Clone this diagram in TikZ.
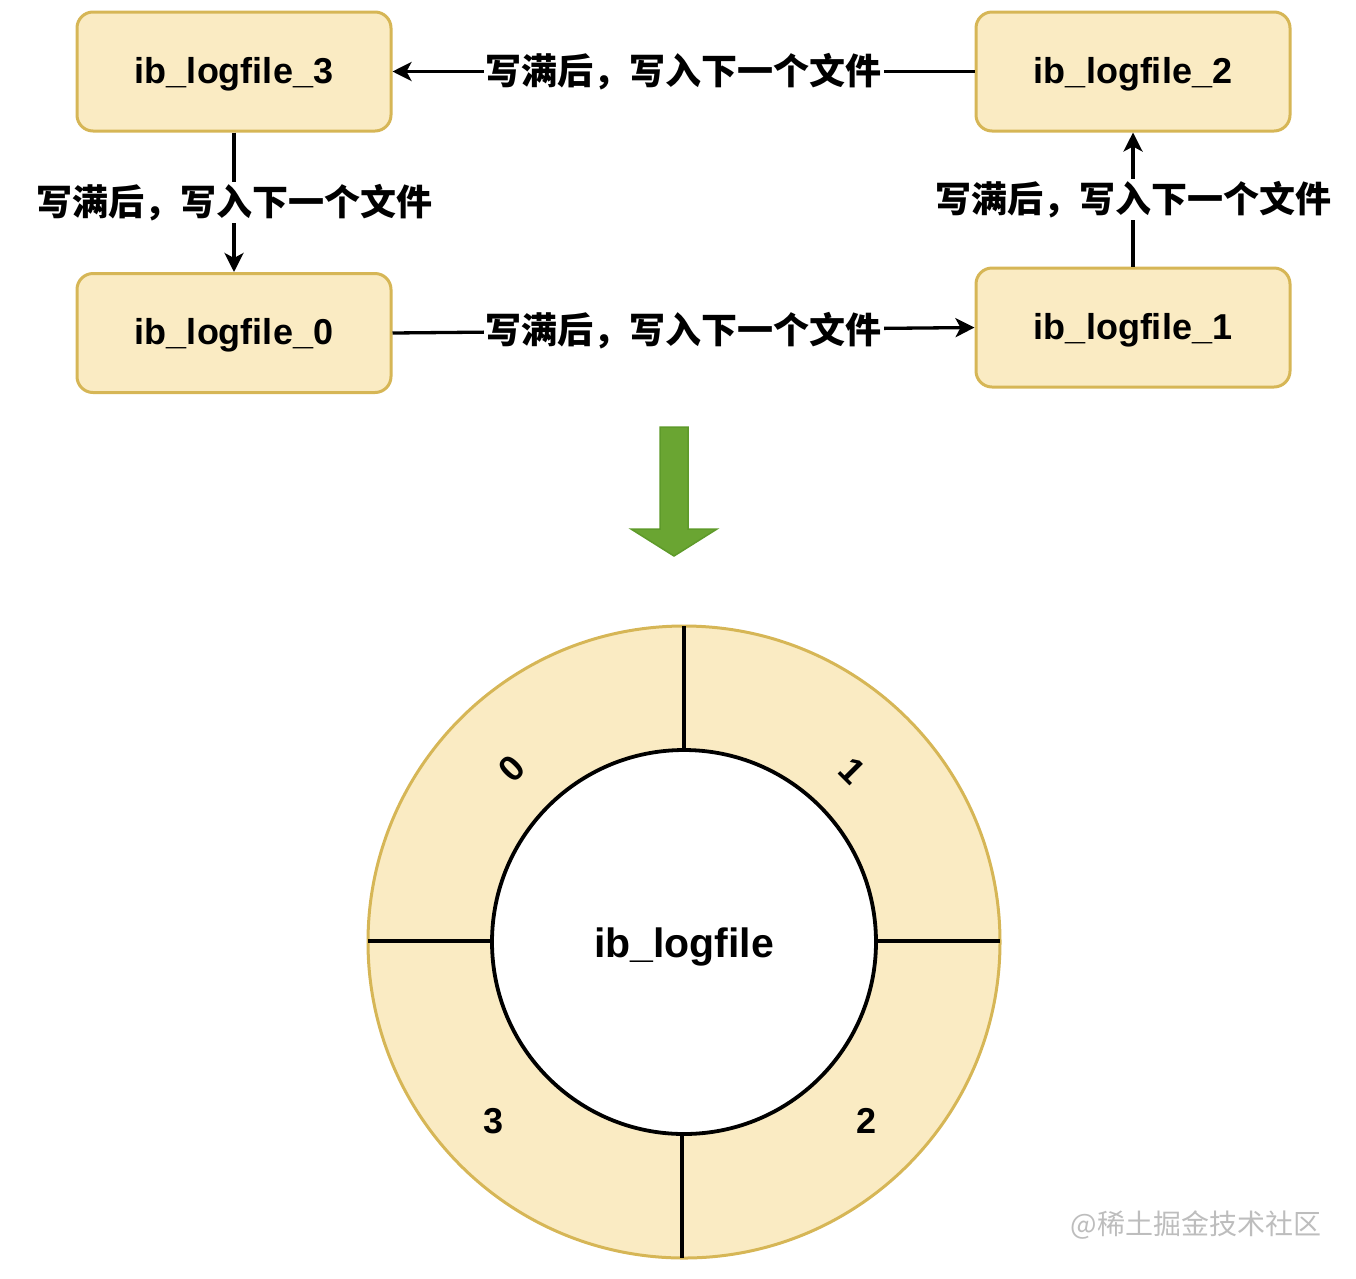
\documentclass[tikz,border=0pt]{standalone}
\usepackage{fontspec}
\setmainfont{Liberation Sans}
\newfontfamily\cjk{Noto Sans CJK SC}
\usetikzlibrary{arrows.meta}
\definecolor{boxfill}{HTML}{FAEBC3}
\definecolor{boxline}{HTML}{D6B656}
\definecolor{arrgreen}{HTML}{6AA532}
\definecolor{arrgreenline}{HTML}{5E9A2A}
\definecolor{wmgray}{HTML}{BDBDBD}
\begin{document}
\begin{tikzpicture}[x=1pt,y=-1pt,
  logbox/.style={draw=boxline,fill=boxfill,line width=3pt,rounded corners=16pt,
    minimum width=314pt,minimum height=119pt,inner sep=0pt,
    text height=29pt,text depth=5.5pt,
    font=\fontsize{36}{40}\selectfont\bfseries},
  conn/.style={line width=3.3pt,-{Stealth[length=19pt,width=19pt,inset=5pt]}},
  lbl/.style={fill=white,inner sep=2pt,font=\cjk\fontsize{36}{40}\selectfont\bfseries},
  seg/.style={line width=3.3pt},
  num/.style={font=\fontsize{36}{40}\selectfont\bfseries}]
\useasboundingbox (0,0) rectangle (1356,1278);
% boxes
\node[logbox] (b3) at (234,71.5) {ib\_logfile\_3};
\node[logbox] (b0) at (234,333) {ib\_logfile\_0};
\node[logbox] (b2) at (1133,71.5) {ib\_logfile\_2};
\node[logbox] (b1) at (1133,327.5) {ib\_logfile\_1};
% connectors
\draw[conn] (b2.west) -- node[lbl] {写满后，写入下一个文件} (b3.east);
\draw[conn] (b3.south) -- node[lbl] {写满后，写入下一个文件} (b0.north);
\draw[conn] (b0.east) -- node[lbl] {写满后，写入下一个文件} (b1.west);
\draw[conn] (b1.north) -- node[lbl] {写满后，写入下一个文件} (b2.south);
% green arrow
\draw[fill=arrgreen,draw=arrgreenline,line width=1.5pt,line join=miter]
  (660,427) -- (688,427) -- (688,529) -- (717,529) -- (674,556) -- (631,529) -- (660,529) -- cycle;
% ring
\coordinate (c) at (684,942);
\draw[fill=boxfill,draw=boxline,line width=3pt] (c) circle[radius=316pt];
\draw[seg] (684,626) -- (684,750);
\draw[seg] (682,1134) -- (682,1258);
\draw[seg] (368,941) -- (492,941);
\draw[seg] (876,941) -- (1000,941);
\node[circle,draw=black,fill=white,line width=3.8pt,minimum size=384pt,inner sep=0pt,
  text height=32pt,text depth=2pt,
  font=\fontsize{41}{44}\selectfont\bfseries] (inner) at (c) {ib\_logfile};
\node[num,rotate=45] (n0) at (512,769) {0};
\node[num,rotate=-45] (n1) at (852,771) {1};
\node[num] (n3) at (494,1121) {3};
\node[num] (n2) at (866,1121) {2};
% watermark
\node[text=wmgray,font=\cjk\fontsize{28}{30}\selectfont] (wm) at (1196,1225) {@稀土掘金技术社区};
\end{tikzpicture}
\end{document}
